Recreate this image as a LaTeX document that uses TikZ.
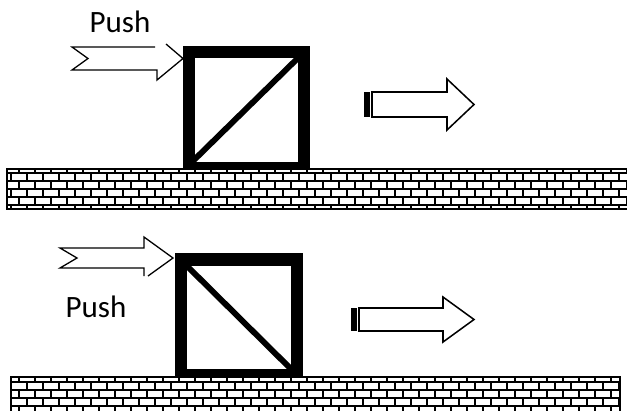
\documentclass[tikz,border=0pt]{standalone}
\usepackage{fontspec}
\setmainfont{Carlito}
\tikzset{
  x=0.03cm, y=-0.03cm,
  mortar/.style={line width=1.9pt, line cap=rect},
  wallborder/.style={line width=2.2pt},
  outline/.style={line width=1.1pt, line join=miter},
  moveline/.style={line width=1.3pt, line join=miter, fill=white},
  pushlabel/.style={font=\fontsize{26.5}{30}\selectfont, anchor=base, inner sep=0pt},
  diag/.style={line width=5pt}
}
\newcommand{\brickwall}[5]{% xl, xr, ytop, yfirst, ybot
  \begin{scope}
    \clip (#1,#3) rectangle (#2,#5);
    \foreach \r in {0,...,5} {\draw[mortar] (#1,#4+8*\r) -- (#2,#4+8*\r);}
    \foreach \r in {-1,1,3} {\foreach \x in {3,19,...,627} {\draw[mortar] (\x,#4+8*\r) -- (\x,#4+8+8*\r);}}
    \foreach \r in {0,2,4} {\foreach \x in {11,27,...,627} {\draw[mortar] (\x,#4+8*\r) -- (\x,#4+8+8*\r);}}
  \end{scope}
  \draw[wallborder] (#1,#3) rectangle (#2,#5);
}
\begin{document}
\begin{tikzpicture}
\clip (0,0) rectangle (627,410);
\fill[white] (0,0) rectangle (627,410);

% ---------- top scene ----------
\node[pushlabel] (push1) at (120,32) {Push};
\draw[outline] (155,47) -- (72,47) -- (88,58.5) -- (72,70) -- (157,70) -- (157,80) -- (183,58.5) -- (166,44);
% box
\fill (183,46) rectangle (310,170);
\fill[white] (195,58) rectangle (298,162);
\begin{scope}
  \clip (195,58) rectangle (298,162);
  \draw[diag] (193,161) -- (299,57);
\end{scope}
% motion arrow
\fill (364,92) rectangle (370,117);
\draw[moveline] (372,92) -- (447,92) -- (447,79) -- (474,104.5) -- (447,130) -- (447,117) -- (372,117) -- cycle;
% ground
\brickwall{7}{640}{169}{173}{209}

% ---------- bottom scene ----------
\node[pushlabel] (push2) at (96,317) {Push};
\draw[outline] (144,276) -- (144,268) -- (60,268) -- (77,258) -- (60,248) -- (144,248) -- (144,237) -- (173,258) -- (148,276);
% box
\fill (175,253) rectangle (303,376);
\fill[white] (187,266) rectangle (291,369);
\begin{scope}
  \clip (187,266) rectangle (291,369);
  \draw[diag] (186,265) -- (292,370);
\end{scope}
% motion arrow
\fill (351,308) rectangle (357,331);
\draw[moveline] (359,308) -- (443,308) -- (443,297) -- (474,319.5) -- (443,342) -- (443,331) -- (359,331) -- cycle;
% ground
\brickwall{11}{620}{377}{382}{418}
\end{tikzpicture}
\end{document}
